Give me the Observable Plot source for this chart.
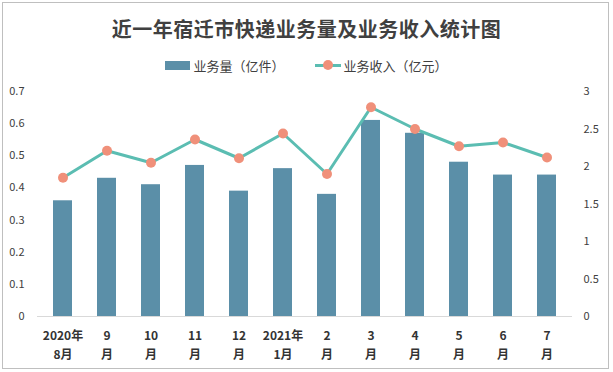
<!DOCTYPE html>
<html><head><meta charset="utf-8">
<script src="https://cdn.jsdelivr.net/npm/d3@7"></script>
<script src="https://cdn.jsdelivr.net/npm/@observablehq/plot@0.6"></script>
<style>
body{margin:0;background:#fff;font-family:"Noto Sans CJK SC","Noto Sans",sans-serif;}
#wrap{position:relative;width:613px;height:372px;overflow:hidden;}
#border{position:absolute;left:2px;top:2px;width:607px;height:367px;border:1px solid #bfbfbf;box-sizing:border-box;}
#title{position:absolute;left:0;top:14px;width:613px;text-align:center;font-size:20px;font-weight:bold;color:#404040;letter-spacing:0.5px;}
#legend{position:absolute;left:0;top:56px;width:613px;display:flex;justify-content:center;align-items:center;font-size:13px;color:#404040;}
.sw{display:inline-block;width:25px;height:9px;background:#5b8fa8;margin-right:3px;}
.ln{position:relative;display:inline-block;width:26px;height:3px;background:#5bbdb2;margin-right:3px;margin-left:30px;}
.ln i{position:absolute;left:8px;top:-4px;width:10px;height:10px;border-radius:50%;background:#f0907a;}
#plot{position:absolute;left:0;top:80px;}
</style></head>
<body><div id="wrap"><div id="border"></div>
<div id="title">近一年宿迁市快递业务量及业务收入统计图</div>
<div id="legend"><span class="sw"></span><span>业务量（亿件）</span><span class="ln"><i></i></span><span>业务收入（亿元）</span></div>
<div id="plot"></div></div>
<script>
const months = ["2020年\n8月","9\n月","10\n月","11\n月","12\n月","2021年\n1月","2\n月","3\n月","4\n月","5\n月","6\n月","7\n月"];
const volume = [0.36,0.43,0.41,0.47,0.39,0.46,0.38,0.61,0.57,0.48,0.44,0.44];
const revenue = [1.85,2.21,2.05,2.36,2.11,2.44,1.90,2.79,2.50,2.27,2.32,2.12];
const leftTicks = [0,0.1,0.2,0.3,0.4,0.5,0.6,0.7];
const rightTicks = [0,0.5,1,1.5,2,2.5,3];
const k = 0.7/3;
const data = months.map((m,i)=>({m, v:volume[i], r:revenue[i]}));
const chart = Plot.plot({
  width:613, height:290, marginTop:11, marginBottom:54, marginLeft:37, marginRight:41,
  style:{fontFamily:"'Noto Sans CJK SC','Noto Sans',sans-serif", color:"#404040", background:"transparent", overflow:"visible"},
  x:{domain:months, paddingInner:0.56, paddingOuter:0.28, axis:null},
  y:{domain:[0,0.7], axis:null},
  marks:[
    Plot.ruleY([0],{stroke:"#d9d9d9", strokeWidth:1}),
    Plot.barY(data,{x:"m", y:"v", fill:"#5b8fa8"}),
    Plot.line(data,{x:"m", y:d=>d.r*k, stroke:"#5bbdb2", strokeWidth:3}),
    Plot.dot(data,{x:"m", y:d=>d.r*k, fill:"#f0907a", r:5}),
    Plot.axisY(leftTicks,{anchor:"left", label:null, tickSize:0, tickPadding:13, fontSize:11, fill:"#404040", tickFormat:d=>String(d)}),
    Plot.axisY(rightTicks.map(t=>t*k),{anchor:"right", label:null, tickSize:0, tickPadding:11, fontSize:11, fill:"#404040", tickFormat:d=>String(+(d/k).toFixed(2))}),
    Plot.axisX({label:null, tickSize:0, tickPadding:10, fontSize:12, fontWeight:"bold", lineHeight:1.6, fill:"#333"})
  ]
});
document.getElementById("plot").appendChild(chart);
</script></body></html>
